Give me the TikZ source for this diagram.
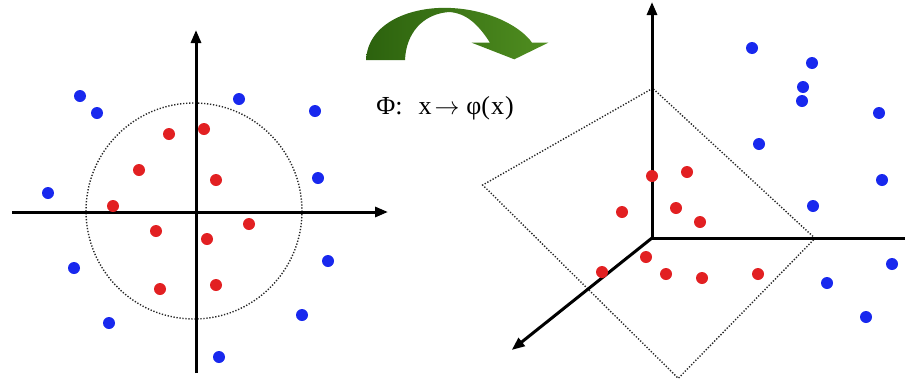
\documentclass[tikz,border=0pt]{standalone}
\usepackage{fontspec}
\setmainfont{Liberation Serif}
\usetikzlibrary{arrows.meta}
\definecolor{dotred}{RGB}{226,32,34}
\definecolor{dotblue}{RGB}{24,40,238}
\definecolor{gdark}{RGB}{44,98,14}
\definecolor{glight}{RGB}{80,142,32}
\tikzset{
  rdot/.style={circle,fill=dotred,inner sep=0pt,minimum size=12pt},
  bdot/.style={circle,fill=dotblue,inner sep=0pt,minimum size=12pt},
  axis/.style={line width=3pt,black},
  axarrow/.style={axis,-{Triangle[length=13pt,width=10pt]}},
  sep/.style={line width=1.4pt,dash pattern=on 1.3pt off 1.7pt,black!85}
}
\begin{document}
\begin{tikzpicture}[x=1pt,y=-1pt]
\useasboundingbox (0,0) rectangle (905,381);
% ---------- left plot ----------
\coordinate (Lw) at (12,212);
\coordinate (Le) at (388,212);
\coordinate (Ls) at (196,373);
\coordinate (Ln) at (196,30);
\node[circle,minimum size=216pt,inner sep=0pt] (circ) at (194,211) {};
\draw[sep] (circ.center) circle (108);
\draw[axarrow] (Lw) -- (Le);
\draw[axarrow] (Ls) -- (Ln);
\foreach \n/\x/\y in {1/169/134,2/204/129,3/139/170,4/216/180,5/113/206,6/156/231,7/249/224,8/207/239,9/160/289,10/216/285}
  \node[rdot] (lr\n) at (\x,\y) {};
\foreach \n/\x/\y in {1/80/96,2/97/113,3/239/99,4/315/111,5/48/193,6/318/178,7/74/268,8/328/261,9/109/323,10/302/315,11/219/357}
  \node[bdot] (lb\n) at (\x,\y) {};
% ---------- mapping arrow ----------
\shade[left color=gdark,right color=glight]
  (366,60) .. controls (368,22) and (412,6) .. (451,8)
  .. controls (492,10) and (522,28) .. (532,42.7)
  -- (548.3,42.7) -- (514.3,59.3) -- (471.7,42.7) -- (490,42.7)
  .. controls (478,24) and (466,13) .. (449,12)
  .. controls (422,14) and (406,34) .. (405,60) -- cycle;
\node[font=\fontsize{26}{30}\selectfont,inner sep=0pt,anchor=base] (phi) at (445,114.7)
  {Φ:\hspace{16pt}x\hspace{3pt}$\rightarrow$\hspace{7pt}φ(\hspace{1pt}x\hspace{1pt})};
% ---------- right plot ----------
\coordinate (O) at (652,238);
\coordinate (Rn) at (652,2);
\coordinate (Re) at (905,238);
\coordinate (Rd) at (511.7,350);
\coordinate (Pt) at (652.7,88.3);
\coordinate (Pl) at (482.7,185);
\coordinate (Pb) at (678.3,378.3);
\coordinate (Pr) at (815,238.3);
\draw[sep] (Pt) -- (Pl) -- (Pb) -- (Pr) -- cycle;
\draw[axarrow] (O) -- (Rn);
\draw[axis] (O) -- (Re);
\draw[axarrow] (O) -- (Rd);
\foreach \n/\x/\y in {1/652/176,2/687/172,3/622/212,4/676/208,5/700/222,6/646/257,7/602/272,8/666/274,9/702/278,10/758/274}
  \node[rdot] (rr\n) at (\x,\y) {};
\foreach \n/\x/\y in {1/752/48,2/812/63,3/803/87,4/802/101,5/879/113,6/759/144,7/882/180,8/813/206,9/892/264,10/827/283,11/866/317}
  \node[bdot] (rb\n) at (\x,\y) {};
\end{tikzpicture}
\end{document}
